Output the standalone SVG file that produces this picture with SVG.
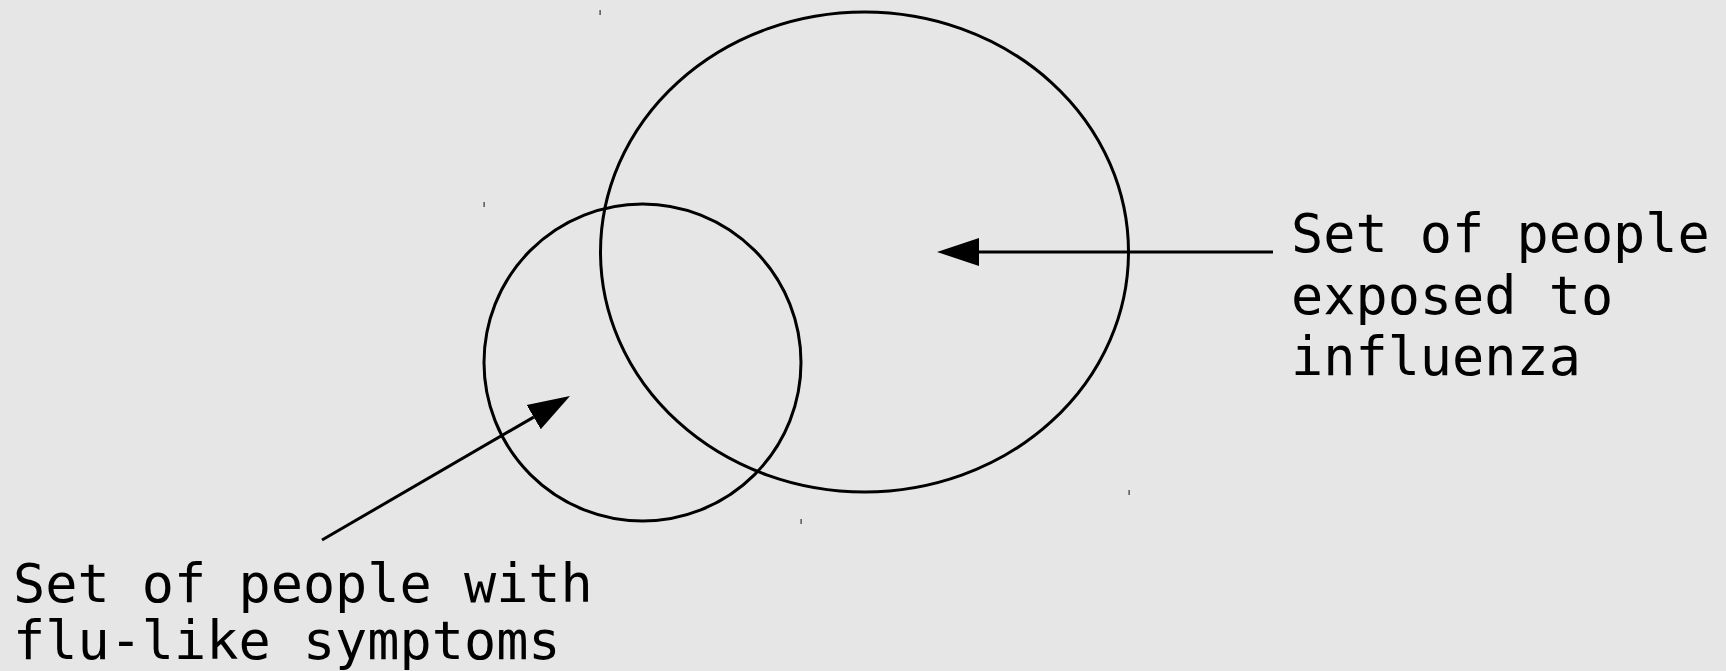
<svg xmlns="http://www.w3.org/2000/svg" width="1726" height="671" viewBox="0 0 1726 671">
<style>
.set{fill:none;stroke:#000;stroke-width:3}
.conn{stroke:#000;stroke-width:3;fill:none}
.lbl{font-family:"DejaVu Sans Mono","Liberation Mono",monospace;font-size:53.5px;fill:#000}
.tick{fill:#333}
</style>
<defs>
<marker id="arr" markerUnits="userSpaceOnUse" markerWidth="44" markerHeight="30" viewBox="0 -15 44 30" refX="0" refY="0" orient="auto">
<path d="M0,-14 L42,0 L0,14 z" fill="#000"/>
</marker>
</defs>
<rect width="1726" height="671" fill="#e6e6e6"/>
<g id="exposed">
<ellipse class="set" cx="864.5" cy="252" rx="264" ry="240"/>
<rect class="tick" x="599.5" y="10" width="1.2" height="5"/>
<rect class="tick" x="1128.5" y="490" width="1.2" height="5"/>
</g>
<g id="symptoms">
<ellipse class="set" cx="642.5" cy="362.5" rx="158.5" ry="158.5"/>
<rect class="tick" x="483.5" y="202" width="1.2" height="5"/>
<rect class="tick" x="800.5" y="519" width="1.2" height="5"/>
</g>
<g id="connectors">
<line class="conn" x1="1273" y1="252" x2="979" y2="252" marker-end="url(#arr)"/>
<line class="conn" x1="322" y1="540" x2="533.7" y2="417.1" marker-end="url(#arr)"/>
</g>
<g id="label-exposed">
<text class="lbl" x="1291" y="252">Set of people</text>
<text class="lbl" x="1291" y="313.5">exposed to</text>
<text class="lbl" x="1291" y="375">influenza</text>
</g>
<g id="label-symptoms">
<text class="lbl" x="13" y="602">Set of people with</text>
<text class="lbl" x="13" y="659">flu-like symptoms</text>
</g>
</svg>
